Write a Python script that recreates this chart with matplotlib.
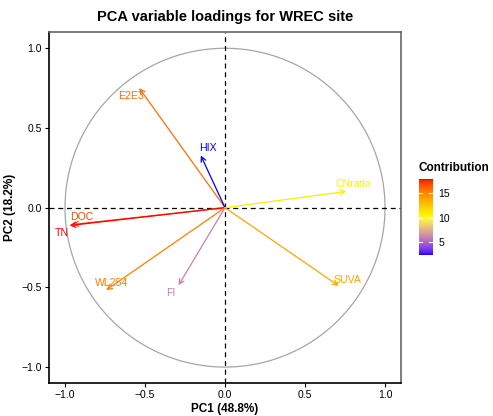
import numpy as np
import matplotlib
matplotlib.use("Agg")
import matplotlib.pyplot as plt
from matplotlib.colors import ListedColormap, Normalize

plt.rcParams["font.family"] = ["Liberation Sans", "DejaVu Sans"]

# PCA variable loadings (PC1, PC2) and contribution to PC1+PC2 (%)
variables = ["E2E3", "HIX", "DOC", "TN", "WL254", "FI", "CNratio", "SUVA"]
pc1 = [-0.536, -0.151, -0.955, -0.972, -0.743, -0.290, 0.758, 0.710]
pc2 = [0.750, 0.327, -0.106, -0.112, -0.517, -0.486, 0.102, -0.490]
contrib = [15.9, 2.4, 16.9, 17.9, 15.3, 6.0, 10.9, 13.9]
# label anchor points
lab_x = [-0.59, -0.104, -0.897, -1.023, -0.706, -0.338, 0.80, 0.768]
lab_y = [0.70, 0.373, -0.058, -0.158, -0.47, -0.533, 0.148, -0.454]
var_pct = [48.8, 18.2]


def srgb_to_lab(rgb):
    rgb = np.asarray(rgb, float)
    lin = np.where(rgb <= 0.04045, rgb / 12.92, ((rgb + 0.055) / 1.055) ** 2.4)
    m = np.array([[0.4124, 0.3576, 0.1805],
                  [0.2126, 0.7152, 0.0722],
                  [0.0193, 0.1192, 0.9505]])
    xyz = lin @ m.T / np.array([0.95047, 1.0, 1.08883])
    f = np.where(xyz > 0.008856, np.cbrt(xyz), 7.787 * xyz + 16 / 116)
    return np.stack([116 * f[..., 1] - 16, 500 * (f[..., 0] - f[..., 1]),
                     200 * (f[..., 1] - f[..., 2])], -1)


def lab_to_srgb(lab):
    lab = np.asarray(lab, float)
    fy = (lab[..., 0] + 16) / 116
    fx = fy + lab[..., 1] / 500
    fz = fy - lab[..., 2] / 200
    f = np.stack([fx, fy, fz], -1)
    xyz = np.where(f > 0.2069, f ** 3, (f - 16 / 116) / 7.787)
    xyz = xyz * np.array([0.95047, 1.0, 1.08883])
    m = np.array([[3.2406, -1.5372, -0.4986],
                  [-0.9689, 1.8758, 0.0415],
                  [0.0557, -0.2040, 1.0570]])
    lin = np.clip(xyz @ m.T, 0, 1)
    return np.where(lin <= 0.0031308, 12.92 * lin, 1.055 * lin ** (1 / 2.4) - 0.055)


def lab_gradient(colors, n=256):
    labs = srgb_to_lab(colors)
    t = np.linspace(0, 1, n) * (len(colors) - 1)
    i = np.minimum(t.astype(int), len(colors) - 2)
    w = (t - i)[:, None]
    return ListedColormap(np.clip(lab_to_srgb(labs[i] * (1 - w) + labs[i + 1] * w), 0, 1))


cmap = lab_gradient([[0, 0, 1], [1, 1, 0], [1, 0, 0]])
norm = Normalize(min(contrib), max(contrib))

fig = plt.figure(figsize=(4.93, 4.16), dpi=100)
ax = fig.add_axes([0.0994, 0.0793, 0.7140, 0.8430])

theta = np.linspace(0, 2 * np.pi, 400)
ax.plot(np.cos(theta), np.sin(theta), color="#a6a6a6", lw=0.9, zorder=1)
ax.axhline(0, color="black", ls=(0, (4, 3)), lw=0.9, zorder=2)
ax.axvline(0, color="black", ls=(0, (4, 3)), lw=0.9, zorder=2)

for name, x, y, c, lx, ly in zip(variables, pc1, pc2, contrib, lab_x, lab_y):
    col = cmap(norm(c))
    ax.annotate("", xy=(x, y), xytext=(0, 0),
                arrowprops=dict(arrowstyle="->,head_length=0.35,head_width=0.18",
                                color=col, lw=0.9, shrinkA=0, shrinkB=0), zorder=3)
    ax.text(lx, ly, name, color=col, fontsize=7.6, ha="center", va="center", zorder=4)

ax.set_xlim(-1.1, 1.1)
ax.set_ylim(-1.1, 1.1)
ticks = [-1.0, -0.5, 0.0, 0.5, 1.0]
ax.set_xticks(ticks)
ax.set_yticks(ticks)
ax.set_xticklabels(["\u22121.0", "\u22120.5", "0.0", "0.5", "1.0"])
ax.set_yticklabels(["\u22121.0", "\u22120.5", "0.0", "0.5", "1.0"])
ax.tick_params(labelsize=7.5, length=3, width=0.8, pad=2, colors="black")
for side in ("left", "bottom"):
    ax.spines[side].set_color("black")
    ax.spines[side].set_linewidth(1.2)
for side in ("top", "right"):
    ax.spines[side].set_color("#666666")
    ax.spines[side].set_linewidth(1.2)
ax.set_xlabel(f"PC1 ({var_pct[0]}%)", fontsize=8.5, fontweight="bold", labelpad=2)
ax.set_ylabel(f"PC2 ({var_pct[1]}%)", fontsize=8.5, fontweight="bold", labelpad=4)
ax.set_title("PCA variable loadings for WREC site", fontsize=10.5,
             fontweight="bold", pad=8)

# colourbar legend
cax = fig.add_axes([0.849, 0.387, 0.0284, 0.182])
sm = plt.cm.ScalarMappable(norm=norm, cmap=cmap)
cb = fig.colorbar(sm, cax=cax, ticks=[5, 10, 15])
cb.outline.set_visible(False)
cax.tick_params(length=0, labelsize=7.5, pad=4)
for v in (5, 10, 15):
    cax.plot([0, 0.22], [v, v], color="white", lw=0.8)
    cax.plot([0.78, 1], [v, v], color="white", lw=0.8)
fig.text(0.849, 0.597, "Contribution", fontsize=8.5, fontweight="bold",
         ha="left", va="center")

fig.savefig("out.png", dpi=100)
